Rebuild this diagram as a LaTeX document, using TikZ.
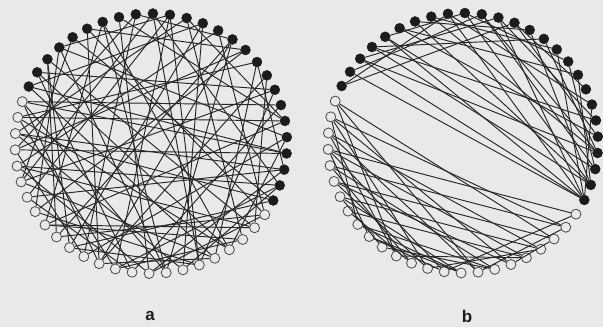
\documentclass[tikz,border=0pt]{standalone}
\usepackage{fontspec}
\setsansfont{Liberation Sans}
\definecolor{bg}{RGB}{233,233,233}
\definecolor{linecol}{RGB}{40,40,40}
\definecolor{nodecol}{RGB}{28,28,28}
\begin{document}
\begin{tikzpicture}[x=1pt,y=-1pt,
  edge/.style={draw=linecol, line width=0.95pt},
  fnode/.style={circle, fill=nodecol, draw=nodecol, inner sep=0pt, minimum size=10pt},
  onode/.style={circle, fill=bg, draw=nodecol!80, line width=0.8pt, inner sep=0pt, minimum size=10pt},
  lab/.style={font=\sffamily\bfseries\fontsize{17}{17}\selectfont, text=nodecol}]
\fill[bg] (0,0) rectangle (603,327);
\useasboundingbox (0,0) rectangle (603,327);
% graph a nodes
\foreach \i in {0,...,49}{
  \pgfmathsetmacro\t{154-7.2*\i}
  \ifnum\i<26
    \node[fnode] (a\i) at ({151+136*cos(\t)},{143.5-130*sin(\t)}) {};
  \else
    \node[onode] (a\i) at ({151+136*cos(\t)},{143.5-130*sin(\t)}) {};
  \fi
}
% graph b nodes
\foreach \i in {0,...,49}{
  \pgfmathsetmacro\t{154-7.2*\i}
  \ifnum\i<26
    \node[fnode] (b\i) at ({463+135*cos(\t)},{143-130*sin(\t)}) {};
  \else
    \node[onode] (b\i) at ({463+135*cos(\t)},{143-130*sin(\t)}) {};
  \fi
}
% graph a edges (random)
\foreach \u/\v in {0/30,0/22,1/35,1/18,2/40,2/27,3/33,3/21,4/44,4/25,5/37,5/15,6/29,6/41,7/34,7/20,8/38,8/46,9/31,9/24,
  10/43,10/36,11/28,11/47,12/39,12/32,13/45,13/26,14/40,14/33,15/42,16/30,16/48,17/37,17/27,18/44,19/35,19/49,20/41,21/38,
  22/46,23/34,23/43,24/36,25/47,25/39,26/40,27/45,28/41,29/48,30/44,31/42,32/47,33/49,34/45,35/43,36/48,37/49,38/46,39/2,
  0/12,3/10,5/26,8/14,11/20,16/23,18/31,21/29,24/32,26/34,28/36,31/39,42/3,44/9,46/15,
  22/49,23/47,20/48,24/45,1/29,6/33,10/31,14/37,27/41,30/37}
  \draw[edge] (a\u) -- (a\v);
% graph b edges (two modules)
\foreach \u/\v in {0/12,1/10,1/25,2/25,2/22,3/24,3/20,3/14,4/23,4/25,5/21,5/17,6/24,6/13,7/22,8/19,8/25,9/24,9/16,10/22,
  10/23,11/20,11/25,12/21,13/24,14/22,15/25,16/23,17/24,12/18,7/15,2/11,0/8,4/9,19/25,
  26/46,26/35,27/45,27/48,28/44,28/49,29/47,29/43,30/46,30/42,31/48,31/44,32/45,32/41,33/47,33/49,34/43,34/40,35/46,36/44,
  36/48,37/42,37/45,38/47,38/49,39/43,40/46,41/48,27/33,29/36,30/38,32/39,34/41,35/40,28/31}
  \draw[edge] (b\u) -- (b\v);
\node[lab] (la) at (150,316) {a};
\node[lab] (lb) at (467,316) {b};
\end{tikzpicture}
\end{document}
